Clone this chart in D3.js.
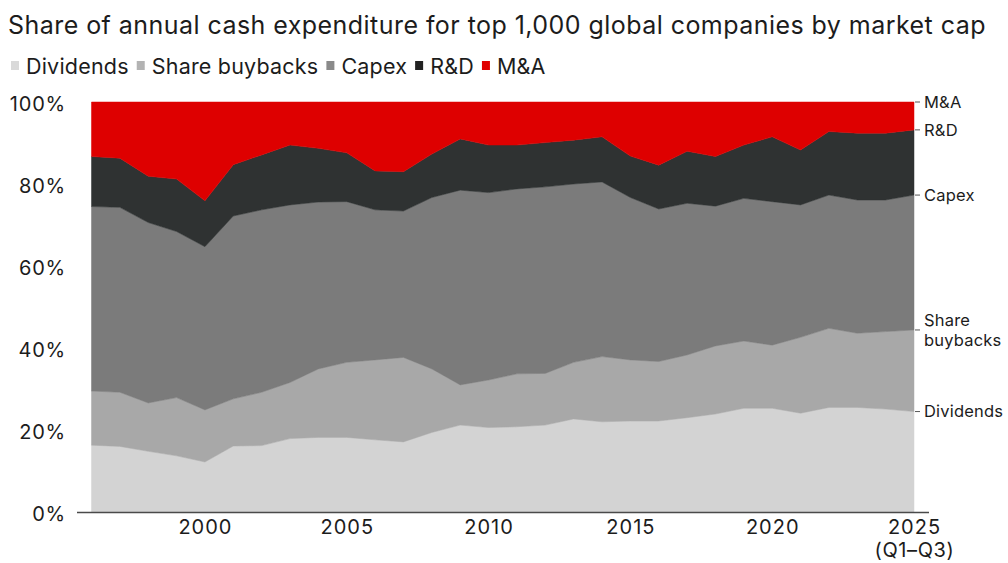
<!DOCTYPE html>
<html>
<head>
<meta charset="utf-8">
<script src="https://cdn.jsdelivr.net/npm/d3@7"></script>
<style>
  html, body { margin: 0; padding: 0; background: #fff; }
  svg { display: block; font-family: Inter, "Open Sans", sans-serif; }
</style>
</head>
<body>
<svg id="chart" width="1008" height="563"></svg>
<script>
// Years covered (2025 is Q1–Q3 only)
const years = [1996,1997,1998,1999,2000,2001,2002,2003,2004,2005,2006,2007,2008,2009,2010,
               2011,2012,2013,2014,2015,2016,2017,2018,2019,2020,2021,2022,2023,2024,2025];

// Share of annual cash expenditure, % per category
const dividends = [16.3,16.0,14.8,13.7,12.2,16.1,16.2,17.9,18.2,18.2,17.6,17.1,19.4,21.2,20.6,
                   20.8,21.2,22.7,22.0,22.2,22.2,23.0,23.9,25.3,25.3,24.1,25.5,25.5,25.1,24.5];
const buybacks  = [13.2,13.2,11.8,14.2,12.7,11.5,13.0,13.7,16.7,18.3,19.5,20.6,15.5,9.8,11.6,
                   12.9,12.6,13.8,15.9,14.9,14.5,15.3,16.6,16.4,15.4,18.5,19.3,18.1,18.9,19.9];
const capex     = [45.0,45.1,44.0,40.5,39.8,44.6,44.5,43.3,40.7,39.2,36.6,35.7,41.8,47.5,45.7,
                   45.1,45.5,43.5,42.6,39.6,37.2,37.0,34.1,34.8,35.0,32.3,32.5,32.5,32.1,32.9];
const rnd       = [12.2,12.0,11.3,12.8,11.2,12.5,13.4,14.6,13.1,11.9,9.5,9.6,10.6,12.5,11.6,
                   10.7,10.8,10.7,11.0,10.1,10.7,12.7,12.1,13.0,15.8,13.4,15.5,16.3,16.3,15.9];
const mna       = [13.3,13.7,18.1,18.8,24.1,15.3,12.9,10.5,11.3,12.4,16.8,17.0,12.7,9.0,10.5,
                   10.5,9.9,9.3,8.5,13.2,15.4,12.0,13.3,10.5,8.5,11.7,7.2,7.6,7.6,6.8];

const seriesKeys   = ["Dividends", "Share buybacks", "Capex", "R&D", "M&A"];
const endLabels    = [["Dividends"], ["Share", "buybacks"], ["Capex"], ["R&D"], ["M&A"]];
const xTickYears   = [2000, 2005, 2010, 2015, 2020, 2025];
const yTickValues  = [0, 0.2, 0.4, 0.6, 0.8, 1.0];

const colors = {
  "Dividends": "#d3d3d3",
  "Share buybacks": "#a8a8a8",
  "Capex": "#7b7b7b",
  "R&D": "#2f3232",
  "M&A": "#de0000"
};
const legendColors = {
  "Dividends": "#d9d9d9",
  "Share buybacks": "#b3b3b3",
  "Capex": "#8a8a8a",
  "R&D": "#222",
  "M&A": "#e00000"
};

const table = years.map((y, i) => ({
  year: y,
  "Dividends": dividends[i],
  "Share buybacks": buybacks[i],
  "Capex": capex[i],
  "R&D": rnd[i],
  "M&A": mna[i]
}));

const svg = d3.select("#chart");
const ink = "#1c1c1c";

const x = d3.scaleLinear().domain([1996, 2025]).range([91.5, 914]);
const y = d3.scaleLinear().domain([0, 1]).range([512, 102]);

const stacked = d3.stack().keys(seriesKeys).offset(d3.stackOffsetExpand)(table);

const area = d3.area()
  .x(d => x(d.data.year))
  .y0(d => y(d[0]))
  .y1(d => y(d[1]));

svg.append("g").selectAll("path")
  .data(stacked)
  .join("path")
  .attr("fill", d => colors[d.key])
  .attr("stroke", d => colors[d.key])
  .attr("stroke-width", 0.5)
  .attr("d", area);

// Title
svg.append("text")
  .attr("x", 8).attr("y", 34)
  .attr("font-size", 25).attr("letter-spacing", 0.45).attr("fill", ink)
  .text("Share of annual cash expenditure for top 1,000 global companies by market cap");

// Legend
const legend = svg.append("g").attr("transform", "translate(11,74)");
let lx = 0;
seriesKeys.forEach(k => {
  const g = legend.append("g").attr("transform", `translate(${lx},0)`);
  g.append("rect").attr("x", 0).attr("y", -13).attr("width", 8).attr("height", 9)
    .attr("fill", legendColors[k]);
  const t = g.append("text").attr("x", 15).attr("y", 0)
    .attr("font-size", 21.5).attr("letter-spacing", 0.2).attr("fill", ink).text(k);
  lx += 15 + t.node().getComputedTextLength() + 8;
});

// Y axis labels
const yAxis = d3.axisLeft(y).tickValues(yTickValues).tickFormat(d3.format(".0%")).tickSize(0).tickPadding(0);
const yg = svg.append("g").attr("transform", "translate(66,0)").call(yAxis);
yg.select(".domain").remove();
yg.selectAll("text").attr("font-size", 20).attr("letter-spacing", 0.8).attr("fill", ink)
  .attr("font-family", "Inter, sans-serif").attr("dy", "0.42em");

// X axis baseline and labels
svg.append("line")
  .attr("x1", 77).attr("x2", 929).attr("y1", y(0) + 0.5).attr("y2", y(0) + 0.5)
  .attr("stroke", "#4a4a4a").attr("stroke-width", 1.5);

const xAxis = d3.axisBottom(x).tickValues(xTickYears).tickFormat(d3.format("d")).tickSize(0).tickPadding(0);
const xg = svg.append("g").attr("transform", `translate(0,${y(0)})`).call(xAxis);
xg.select(".domain").remove();
xg.selectAll("text").attr("font-size", 20).attr("letter-spacing", 1).attr("fill", ink)
  .attr("font-family", "Inter, sans-serif").attr("y", 22).attr("dy", null);
xg.selectAll(".tick").filter(d => d === 2025).append("text")
  .attr("y", 45).attr("text-anchor", "middle")
  .attr("font-size", 20).attr("letter-spacing", 0.6).attr("fill", ink).attr("font-family", "Inter, sans-serif")
  .text("(Q1\u2013Q3)");

// End-of-series labels at the last year
const last = stacked.map(s => ({ key: s.key, top: s[s.length - 1][1] }));
const endG = svg.append("g");
last.forEach((d, i) => {
  const yy = y(d.top);
  endG.append("line").attr("x1", 915).attr("x2", 920).attr("y1", yy).attr("y2", yy)
    .attr("stroke", "#555").attr("stroke-width", 1);
  const lines = endLabels[i];
  const t = endG.append("text").attr("x", 924).attr("y", yy)
    .attr("font-size", 16.5).attr("letter-spacing", 0.2).attr("fill", ink);
  lines.forEach((ln, j) => {
    t.append("tspan").attr("x", 924)
      .attr("dy", j === 0 ? (0.35 - (lines.length - 1) * 0.6) + "em" : "1.2em")
      .text(ln);
  });
});
</script>
</body>
</html>
